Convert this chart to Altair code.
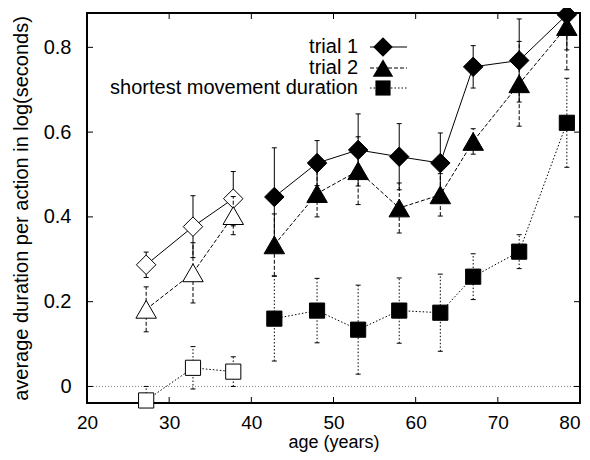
import altair as alt
import pandas as pd

# ---- data ----
ages_young = [27.2, 32.9, 37.8]
ages_old = [42.8, 48.0, 53.0, 58.0, 63.0, 67.0, 72.6, 78.4]

trial1_young = [0.287, 0.377, 0.443]
trial1_young_err = [0.030, 0.073, 0.064]
trial1_old = [0.447, 0.527, 0.558, 0.542, 0.527, 0.754, 0.769, 0.877]
trial1_old_err = [0.116, 0.053, 0.085, 0.078, 0.071, 0.050, 0.098, 0.083]

trial2_young = [0.182, 0.268, 0.403]
trial2_young_err = [0.053, 0.071, 0.045]
trial2_old = [0.334, 0.455, 0.509, 0.421, 0.452, 0.578, 0.714, 0.849]
trial2_old_err = [0.073, 0.055, 0.080, 0.059, 0.050, 0.030, 0.100, 0.102]

short_young = [-0.033, 0.044, 0.035]
short_young_err = [0.033, 0.050, 0.035]
short_old = [0.160, 0.179, 0.134, 0.179, 0.174, 0.259, 0.318, 0.622]
short_old_err = [0.100, 0.076, 0.105, 0.077, 0.091, 0.054, 0.040, 0.105]

x_ticks = [20, 30, 40, 50, 60, 70, 80]
y_ticks = [0, 0.2, 0.4, 0.6, 0.8]

legend_labels = ["trial 1", "trial 2", "shortest movement duration"]

FONT = "Liberation Sans"
FS = 20
W, H = 493, 390

xscale = alt.Scale(domain=[20, 80], nice=False, zero=False)
yscale = alt.Scale(domain=[-0.039, 0.881], nice=False, zero=False)

xaxis = alt.Axis(values=x_ticks, ticks=False, domain=False, grid=False,
                 labelFont=FONT, labelFontSize=19, labelColor="black",
                 labelBaseline="alphabetic", labelPadding=25,
                 labelAlign=alt.ExprRef(expr="datum.value >= 80 ? 'right' : 'center'"),
                 title="age (years)", titleFont=FONT, titleFontSize=18,
                 titleFontWeight="normal", titleColor="black",
                 titleBaseline="alphabetic", titleY=44, labelFlush=False)
yaxis = alt.Axis(values=y_ticks, ticks=False, domain=False, grid=False, format="~g",
                 labelFont=FONT, labelFontSize=FS, labelColor="black",
                 labelPadding=16, labelBaseline="middle",
                 title="average duration per action in log(seconds)",
                 titleFont=FONT, titleFontSize=FS, titleFontWeight="normal",
                 titleColor="black", titleAngle=-90, titleX=-59.5, titleY=195,
                 titleAlign="center", titleBaseline="alphabetic")


def X(field):
    return alt.X(field, type="quantitative", scale=xscale, axis=xaxis)


def Y(field):
    return alt.Y(field, type="quantitative", scale=yscale, axis=yaxis)


def series_df(yv, ye, ov, oe):
    df = pd.DataFrame({
        "age": ages_young + ages_old,
        "val": yv + ov,
        "err": ye + oe,
        "grp": ["young"] * len(ages_young) + ["old"] * len(ages_old),
    })
    df["lo"] = df["val"] - df["err"]
    df["hi"] = df["val"] + df["err"]
    return df


series = [
    (series_df(trial1_young, trial1_young_err, trial1_old, trial1_old_err), "diamond", 380, []),
    (series_df(trial2_young, trial2_young_err, trial2_old, trial2_old_err), "triangle-up", 420, [4, 2]),
    (series_df(short_young, short_young_err, short_old, short_old_err), "square", 230, [1.5, 2]),
]

fill_scale = alt.Scale(domain=["young", "old"], range=["white", "black"])

layers = []

# zero line
zero_df = pd.DataFrame({"val": [0]})
layers.append(alt.Chart(zero_df).mark_rule(color="#888888", strokeDash=[1, 2], strokeWidth=1)
              .encode(y=Y("val")))

# inner ticks (gnuplot style, mirrored)
xt = pd.DataFrame({"age": x_ticks})
yt = pd.DataFrame({"val": y_ticks})
layers.append(alt.Chart(xt).mark_rule(color="black", strokeWidth=1)
              .encode(x=X("age"), y=alt.value(H), y2=alt.value(H - 6)))
layers.append(alt.Chart(xt).mark_rule(color="black", strokeWidth=1)
              .encode(x=X("age"), y=alt.value(0), y2=alt.value(6)))
layers.append(alt.Chart(yt).mark_rule(color="black", strokeWidth=1)
              .encode(y=Y("val"), x=alt.value(0), x2=alt.value(6)))
layers.append(alt.Chart(yt).mark_rule(color="black", strokeWidth=1)
              .encode(y=Y("val"), x=alt.value(W), x2=alt.value(W - 6)))

for df, shape, size, dash in series:
    base = alt.Chart(df)
    layers.append(base.mark_line(color="black", strokeWidth=1, strokeDash=dash)
                  .encode(x=X("age"), y=Y("val"), detail="grp:N"))
    layers.append(base.mark_rule(color="black", strokeWidth=1, strokeDash=dash, clip=True)
                  .encode(x=X("age"), y=Y("lo"), y2="hi"))
    layers.append(base.mark_rule(color="black", strokeWidth=1, clip=True, xOffset=-2.5, x2Offset=2.5)
                  .encode(x=X("age"), x2="age", y=Y("hi")))
    layers.append(base.mark_rule(color="black", strokeWidth=1, clip=True, xOffset=-2.5, x2Offset=2.5)
                  .encode(x=X("age"), x2="age", y=Y("lo")))
    layers.append(base.mark_point(shape=shape, size=size, stroke="black", strokeWidth=1, opacity=1,
                                  fillOpacity=1, filled=False)
                  .encode(x=X("age"), y=Y("val"),
                          fill=alt.Fill("grp:N", scale=fill_scale, legend=None)))

# legend (gnuplot style: text right-aligned, sample to the right)
leg_y = [34, 55, 75]
for i, (lab, (df, shape, size, dash)) in enumerate(zip(legend_labels, series)):
    ld = pd.DataFrame({"label": [lab]})
    lb = alt.Chart(ld)
    layers.append(lb.mark_text(align="right", baseline="middle", font=FONT, fontSize=FS, color="black")
                  .encode(text="label:N", x=alt.value(271), y=alt.value(leg_y[i])))
    layers.append(lb.mark_rule(color="black", strokeWidth=1, strokeDash=dash)
                  .encode(x=alt.value(283), x2=alt.value(320), y=alt.value(leg_y[i])))
    layers.append(lb.mark_point(shape=shape, size=size, filled=True, color="black", opacity=1)
                  .encode(x=alt.value(296), y=alt.value(leg_y[i])))

chart = alt.layer(*layers).properties(
    width=W, height=H,
    autosize=alt.AutoSizeParams(type="none"),
    padding={"left": 79, "top": 5, "right": 2, "bottom": 49},
    background="white",
).configure_view(stroke="black", strokeWidth=2)

chart.save("out.html", embed_options={"renderer": "svg", "actions": False})
